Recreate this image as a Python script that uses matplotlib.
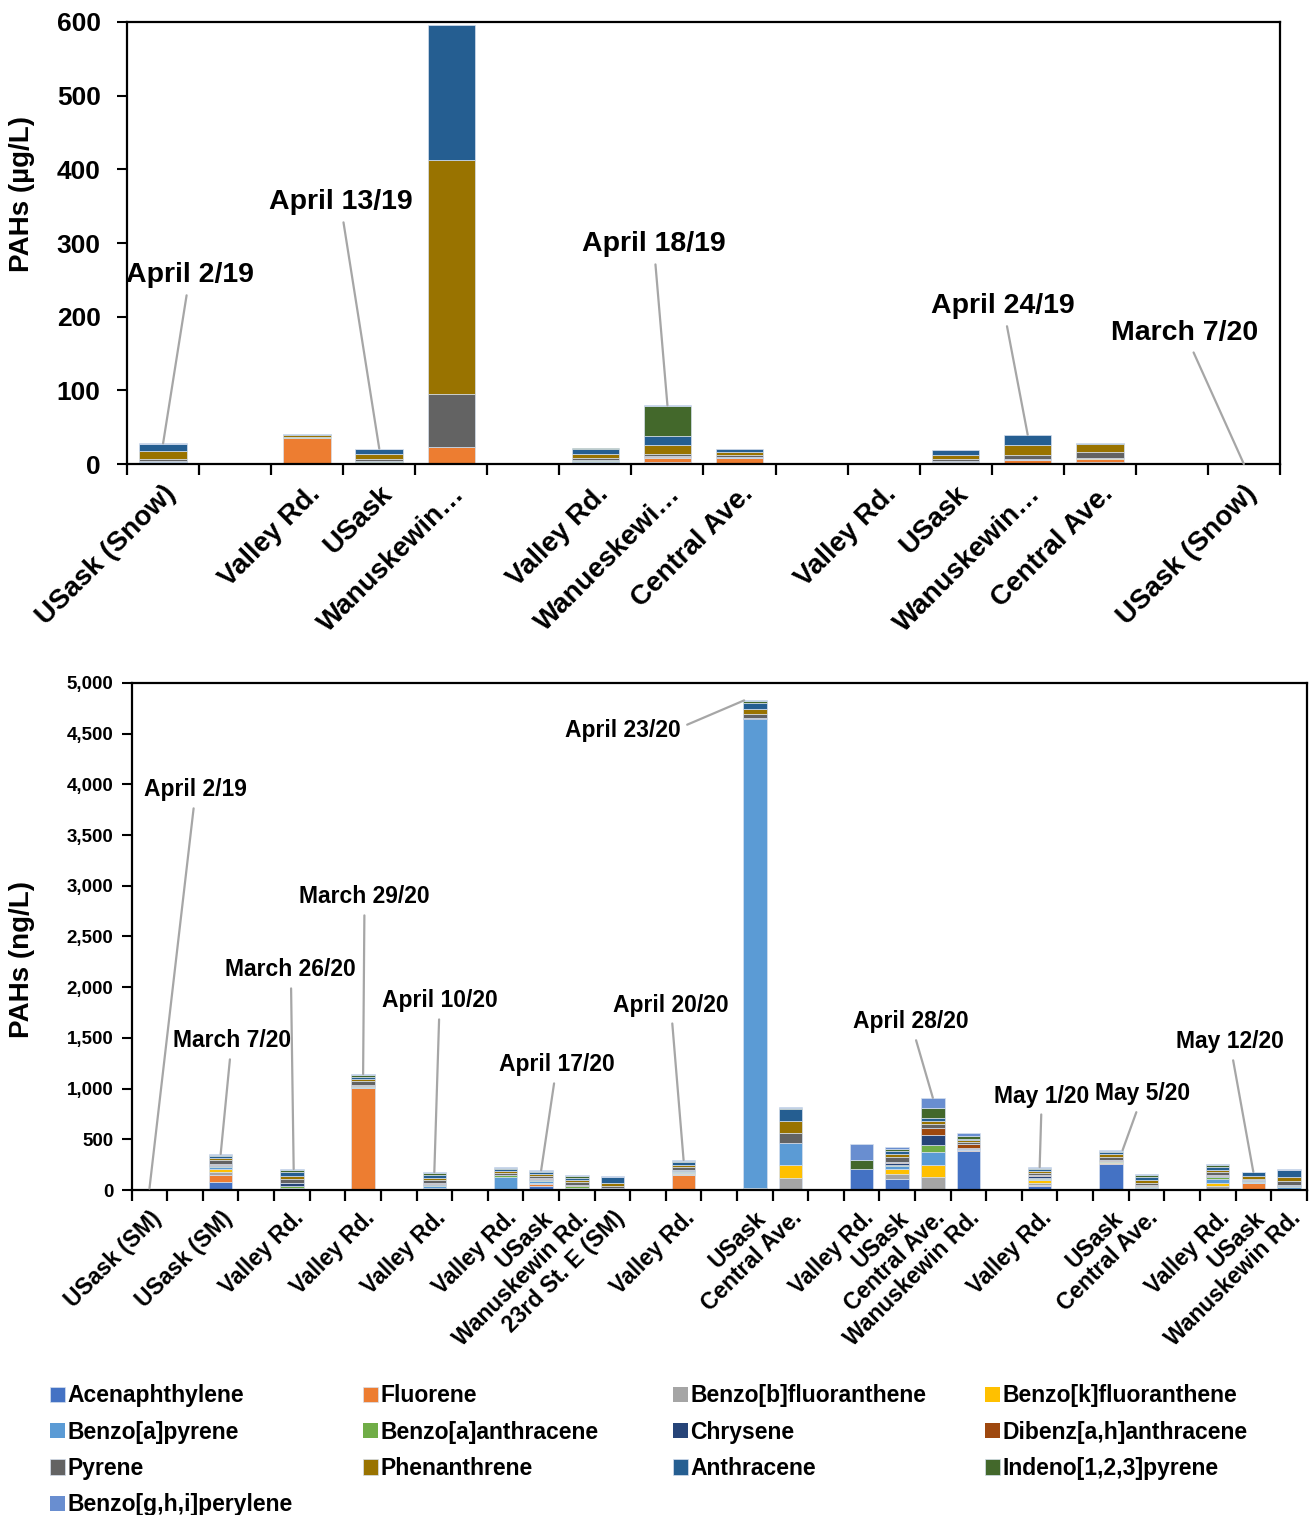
import numpy as np
import matplotlib.pyplot as plt
from matplotlib.ticker import FuncFormatter, FixedLocator

plt.rcParams['font.family'] = ['Liberation Sans', 'DejaVu Sans']
plt.rcParams['font.weight'] = 'bold'

compounds = ['Acenaphthylene', 'Fluorene', 'Benzo[b]fluoranthene', 'Benzo[k]fluoranthene',
             'Benzo[a]pyrene', 'Benzo[a]anthracene', 'Chrysene', 'Dibenz[a,h]anthracene',
             'Pyrene', 'Phenanthrene', 'Anthracene', 'Indeno[1,2,3]pyrene', 'Benzo[g,h,i]perylene']
colors = ['#4472C4', '#ED7D31', '#A5A5A5', '#FFC000', '#5B9BD5', '#70AD47', '#264478',
          '#9E480E', '#636363', '#997300', '#255E91', '#43682B', '#698ED0']

# ---- top panel: snow / early samples (ug/L) ----
top_sites = ['USask (Snow)', '', 'Valley Rd.', 'USask', 'Wanuskewin…', '', 'Valley Rd.',
             'Wanueskewi…', 'Central Ave.', '', 'Valley Rd.', 'USask', 'Wanuskewin…',
             'Central Ave.', '', 'USask (Snow)']
top_acenaphthylene = [0.3, 0, 0, 0.5, 0, 0, 0.3, 2.3, 1.0, 0, 0, 0.5, 0.9, 2.7, 0, 0]
top_fluorene = [2.5, 0, 35.0, 2.0, 23, 0, 1.8, 5.4, 6.8, 0, 0, 2.7, 4.5, 3.6, 0, 0]
top_benzo_b = [0.3, 0, 0.5, 0.5, 0.5, 0, 0.5, 2.5, 1.0, 0, 0, 0.5, 1.4, 1.0, 0, 0]
top_benzo_k = [0.2, 0, 0, 0, 0, 0, 0, 0, 0, 0, 0, 0, 0, 0.8, 0, 0]
top_benzo_a_pyr = [0.5, 0, 0.3, 0.3, 0, 0, 1.0, 0, 1.3, 0, 0, 0, 0, 0, 0, 0]
top_benzo_a_anth = [0.3, 0, 0.5, 1.0, 0, 0, 1.5, 0, 0, 0, 0, 0.4, 0, 0, 0, 0]
top_chrysene = [0.5, 0, 0, 0.5, 0, 0, 0, 0, 0, 0, 0, 0.5, 0, 0, 0, 0]
top_dibenz = [0.2, 0, 0, 0, 0, 0, 0, 1.0, 0, 0, 0, 0, 0, 0, 0, 0]
top_pyrene = [2.2, 0, 1.0, 2.3, 71, 0, 3.0, 2.3, 2.3, 0, 0.8, 2.7, 5.9, 8.6, 0, 0.1]
top_phenanthrene = [10.4, 0, 1.5, 6.8, 318, 0, 5.9, 12.7, 3.6, 0, 0, 5.4, 13.1, 10.4, 0, 0]
top_anthracene = [10.0, 0, 1.5, 6.8, 183, 0, 6.8, 12.2, 4.0, 0, 0, 6.3, 14.0, 1.0, 0, 0]
top_indeno = [0.3, 0, 0, 0.3, 0, 0, 0.5, 40.7, 0, 0, 0, 0, 0, 0, 0, 0]
top_benzo_ghi = [0.4, 0, 0.3, 0, 0, 0, 0, 0.5, 0, 0, 0, 0, 0, 0.6, 0, 0]
top_dates = ['April 2/19', 'April 13/19', 'April 18/19', 'April 24/19', 'March 7/20']
top_date_bars = [0, 3, 7, 12, 15]

# ---- bottom panel: snowmelt / runoff samples (ng/L) ----
bot_sites = ['USask (SM)', '', 'USask (SM)', '', 'Valley Rd.', '', 'Valley Rd.', '',
             'Valley Rd.', '', 'Valley Rd.', 'USask', 'Wanuskewin Rd.', '23rd St. E (SM)', '',
             'Valley Rd.', '', 'USask', 'Central Ave.', '', 'Valley Rd.', 'USask',
             'Central Ave.', 'Wanuskewin Rd.', '', 'Valley Rd.', '', 'USask', 'Central Ave.',
             '', 'Valley Rd.', 'USask', 'Wanuskewin Rd.']
bot_acenaphthylene = [1, 0, 76, 0, 3, 0, 3, 0, 5, 0, 3, 38, 3, 2, 0, 3, 0, 5, 0, 0, 207, 108, 0, 385, 0, 40, 0, 258, 3, 0, 5, 3, 3]
bot_fluorene = [1, 0, 76, 0, 3, 0, 1000, 0, 5, 0, 3, 22, 5, 2, 0, 150, 0, 5, 0, 0, 0, 5, 0, 5, 0, 8, 0, 5, 5, 0, 5, 65, 3]
bot_benzo_b = [0, 0, 23, 0, 5, 0, 5, 0, 10, 0, 5, 8, 5, 2, 0, 8, 0, 5, 118, 0, 0, 46, 128, 5, 0, 25, 0, 8, 8, 0, 25, 3, 5]
bot_benzo_k = [0, 0, 33, 0, 3, 0, 2, 0, 3, 0, 3, 5, 3, 2, 0, 3, 0, 5, 128, 0, 0, 46, 118, 3, 0, 28, 0, 3, 3, 0, 35, 3, 3]
bot_benzo_a_pyr = [0, 0, 17, 0, 5, 0, 3, 0, 15, 0, 115, 15, 8, 3, 0, 10, 0, 4620, 217, 0, 0, 30, 128, 5, 0, 10, 0, 5, 10, 0, 40, 5, 20]
bot_benzo_a_anth = [0, 0, 10, 0, 18, 0, 8, 0, 15, 0, 15, 10, 12, 3, 0, 12, 0, 5, 0, 0, 0, 15, 69, 5, 0, 10, 0, 5, 10, 0, 15, 8, 8]
bot_chrysene = [0, 0, 12, 0, 30, 0, 8, 0, 10, 0, 5, 15, 8, 3, 0, 8, 0, 5, 0, 0, 0, 15, 99, 5, 0, 15, 0, 5, 5, 0, 15, 12, 5]
bot_dibenz = [0, 0, 8, 0, 5, 0, 2, 0, 8, 0, 3, 5, 10, 2, 0, 5, 0, 3, 0, 0, 0, 15, 69, 38, 0, 10, 0, 10, 5, 0, 10, 3, 3]
bot_pyrene = [2, 0, 40, 0, 38, 0, 40, 0, 25, 0, 18, 25, 25, 25, 0, 30, 0, 45, 99, 0, 0, 45, 40, 20, 0, 20, 0, 30, 25, 0, 25, 8, 40]
bot_phenanthrene = [2, 0, 23, 0, 25, 0, 20, 0, 20, 0, 15, 18, 22, 28, 0, 20, 0, 50, 118, 0, 0, 30, 30, 18, 0, 20, 0, 25, 25, 0, 25, 28, 43]
bot_anthracene = [1, 0, 15, 0, 38, 0, 25, 0, 35, 0, 18, 15, 20, 55, 0, 25, 0, 55, 118, 0, 0, 25, 30, 15, 0, 20, 0, 20, 25, 0, 30, 35, 60]
bot_indeno = [8, 0, 12, 0, 22, 0, 15, 0, 15, 0, 12, 12, 15, 5, 0, 12, 0, 15, 15, 0, 89, 25, 99, 32, 0, 12, 0, 12, 20, 0, 20, 3, 8]
bot_benzo_ghi = [0, 0, 10, 0, 12, 0, 12, 0, 10, 0, 10, 7, 8, 8, 0, 10, 0, 10, 10, 0, 158, 15, 99, 25, 0, 8, 0, 8, 10, 0, 10, 3, 5]
bot_dates = ['April 2/19', 'March 7/20', 'March 26/20', 'March 29/20', 'April 10/20',
             'April 17/20', 'April 20/20', 'April 23/20', 'April 28/20', 'May 1/20',
             'May 5/20', 'May 12/20']
bot_date_bars = [0, 2, 4, 6, 8, 11, 15, 17, 22, 25, 27, 31]

top_series = [top_acenaphthylene, top_fluorene, top_benzo_b, top_benzo_k, top_benzo_a_pyr,
              top_benzo_a_anth, top_chrysene, top_dibenz, top_pyrene, top_phenanthrene,
              top_anthracene, top_indeno, top_benzo_ghi]
bot_series = [bot_acenaphthylene, bot_fluorene, bot_benzo_b, bot_benzo_k, bot_benzo_a_pyr,
              bot_benzo_a_anth, bot_chrysene, bot_dibenz, bot_pyrene, bot_phenanthrene,
              bot_anthracene, bot_indeno, bot_benzo_ghi]

LEADER = '#A6A6A6'
EDGE = '#D6E0EE'


def stacked(ax, series, width):
    n = len(series[0])
    x = np.arange(n)
    bottom = np.zeros(n)
    handles = []
    for name, vals, col in zip(compounds, series, colors):
        vals = np.asarray(vals, dtype=float)
        lws = [0.5 if v > 0 else 0 for v in vals]
        h = ax.bar(x, vals, width, bottom=bottom, color=col, edgecolor=EDGE,
                   linewidth=lws, label=name, zorder=2)
        handles.append(h)
        bottom += vals
    return bottom, handles


def style_axis(ax, sites, fs_x, fs_y, ypad):
    n = len(sites)
    ax.set_xlim(-0.5, n - 0.5)
    ax.xaxis.set_major_locator(FixedLocator(np.arange(n)))
    ax.set_xticklabels(sites, rotation=45, ha='right', rotation_mode='anchor',
                       fontsize=fs_x, fontweight='bold')
    ax.xaxis.set_minor_locator(FixedLocator(np.arange(n + 1) - 0.5))
    ax.tick_params(axis='x', which='major', length=0, pad=12)
    ax.tick_params(axis='x', which='minor', length=8, width=1.6, direction='out')
    ax.tick_params(axis='y', length=7, width=1.5, direction='out', labelsize=fs_y, pad=ypad)
    for lbl in ax.get_yticklabels():
        lbl.set_fontweight('bold')
    for sp in ax.spines.values():
        sp.set_linewidth(1.6)
        sp.set_color('black')


fig = plt.figure(figsize=(13.1, 15.15), dpi=100)

# top chart
ax1 = fig.add_axes([0.097, 0.6937, 0.880, 0.2918])
tot1, _ = stacked(ax1, top_series, 0.66)
ax1.set_ylim(0, 600)
ax1.set_yticks(np.arange(0, 601, 100))
style_axis(ax1, top_sites, 20, 19, 12)
ax1.set_ylabel('PAHs (µg/L)', fontsize=20, fontweight='bold')
ax1.yaxis.set_label_coords(-0.080, 0.61)

top_text_pos = [(0.37, 256), (2.46, 355), (6.81, 298), (11.66, 214), (14.18, 178)]
for lab, b, (tx, ty) in zip(top_dates, top_date_bars, top_text_pos):
    ax1.annotate(lab, xy=(b, tot1[b]), xytext=(tx, ty), ha='center', va='center',
                 fontsize=20.5, fontweight='bold', zorder=5,
                 arrowprops=dict(arrowstyle='-', color=LEADER, lw=1.6,
                                 shrinkA=3, shrinkB=0))

# bottom chart
ax2 = fig.add_axes([0.1005, 0.2145, 0.8970, 0.3347])
tot2, handles = stacked(ax2, bot_series, 0.66)
ax2.set_ylim(0, 5000)
ax2.set_yticks(np.arange(0, 5001, 500))
ax2.yaxis.set_major_formatter(FuncFormatter(lambda v, p: f'{int(v):,}'))
style_axis(ax2, bot_sites, 16.5, 13.5, 6)
ax2.set_ylabel('PAHs (ng/L)', fontsize=20, fontweight='bold')
ax2.yaxis.set_label_coords(-0.0825, 0.455)

bot_text_pos = [(1.30, 3945), (2.31, 1470), (3.97, 2170), (6.04, 2890), (8.15, 1864),
                (11.44, 1233), (14.64, 1824), (13.29, 4536), (21.38, 1657), (25.06, 927),
                (27.9, 947), (30.34, 1460)]
bot_xy_shift = [0, 0, 0.05, 0, 0, 0, 0, -0.3, 0, 0, 0.33, 0]
for lab, b, (tx, ty), dx in zip(bot_dates, bot_date_bars, bot_text_pos, bot_xy_shift):
    conn = 'arc3,rad=0'
    if lab == 'April 23/20':
        # short horizontal stub out of the label, then up to the bar
        conn = 'arc,angleA=0,armA=52,angleB=0,armB=0,rad=0'
    ax2.annotate(lab, xy=(b + dx, tot2[b]), xytext=(tx, ty), ha='center', va='center',
                 fontsize=16.5, fontweight='bold', zorder=5,
                 arrowprops=dict(arrowstyle='-', color=LEADER, lw=1.6,
                                 shrinkA=3, shrinkB=0, connectionstyle=conn))

# legend: four fixed-width columns, filled row by row like the original
legend_cols = [[0, 4, 8, 12], [1, 5, 9], [2, 6, 10], [3, 7, 11]]
legend_x = [50, 363, 673, 985]
for col, xpx in zip(legend_cols, legend_x):
    fig.legend([handles[i] for i in col], [compounds[i] for i in col],
               loc='upper left', bbox_to_anchor=(xpx / 1310, 0.0862), ncol=1,
               frameon=False, prop={'size': 16.5, 'weight': 'bold'},
               handlelength=0.65, handleheight=0.65, handletextpad=0.1,
               labelspacing=0.58, borderaxespad=0, borderpad=0)

fig.savefig('out.png', dpi=100)
